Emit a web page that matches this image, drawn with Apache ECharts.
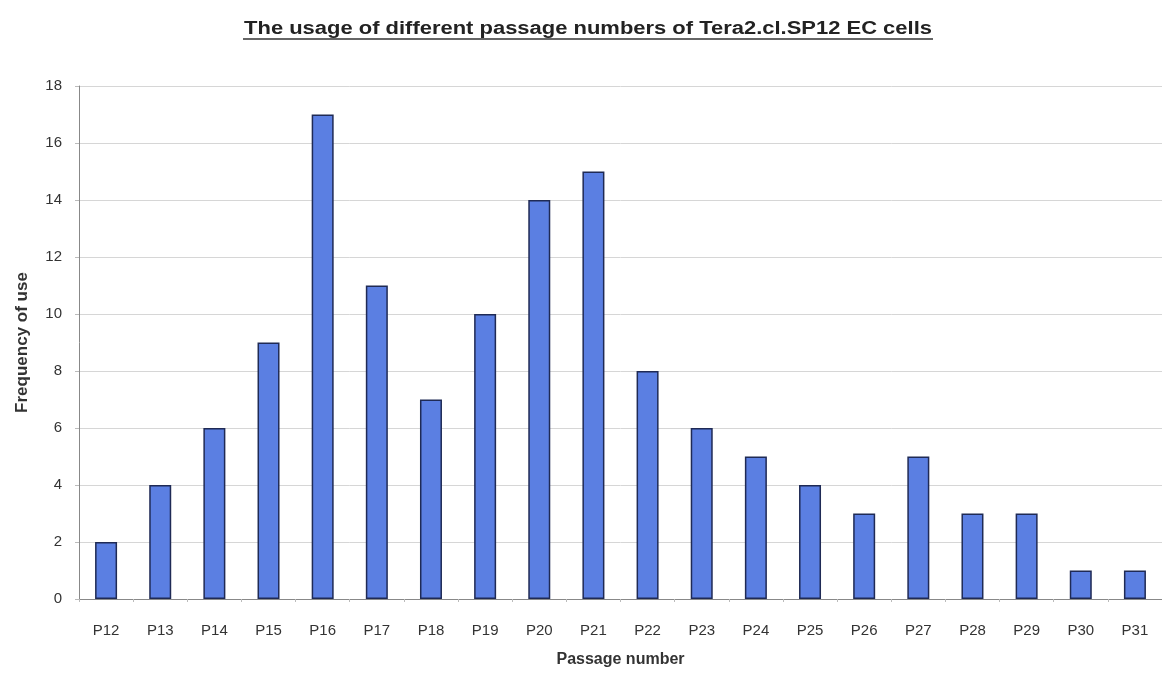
<!DOCTYPE html>
<html><head><meta charset="utf-8">
<script src="https://cdn.jsdelivr.net/npm/echarts@6/dist/echarts.min.js"></script>
<style>html,body{margin:0;padding:0;background:#fff}#c{width:1162px;height:673px}</style>
</head><body><div id="c"></div>
<script>
const categories = ['P12','P13','P14','P15','P16','P17','P18','P19','P20','P21','P22','P23','P24','P25','P26','P27','P28','P29','P30','P31'];
const frequency = [2,4,6,9,17,11,7,10,14,15,8,6,5,4,3,5,3,3,1,1];
const yTicks = [0,2,4,6,8,10,12,14,16,18];
const titleText = 'The usage of different passage numbers of Tera2.cl.SP12 EC cells';

const FONT = 'Liberation Sans, Arial, sans-serif';
const chart = echarts.init(document.getElementById('c'));
chart.setOption({
  animation: false,
  backgroundColor: '#fff',
  graphic: [
    {type: 'text', x: 588, y: 29, scaleX: 1.22, scaleY: 1,
      style: {text: titleText, font: 'bold 18px ' + FONT, fill: '#222', textAlign: 'center', textVerticalAlign: 'middle'}},
    {type: 'line', shape: {x1: 243, y1: 39, x2: 933, y2: 39}, style: {stroke: '#333', lineWidth: 1.4}}
  ],
  grid: {left: 79, right: -5, top: 86, bottom: 69},
  xAxis: {
    type: 'category', data: categories,
    name: 'Passage number', nameLocation: 'middle', nameGap: 53,
    nameTextStyle: {fontFamily: FONT, fontSize: 16, fontWeight: 'bold', color: '#333'},
    axisLine: {lineStyle: {color: '#888', width: 1}},
    axisTick: {show: true, length: 3, lineStyle: {color: '#bbb'}},
    axisLabel: {fontFamily: FONT, fontSize: 15, color: '#333', margin: 24}
  },
  yAxis: {
    type: 'value', min: 0, max: 18, interval: 2,
    name: 'Frequency of use', nameLocation: 'middle', nameGap: 48,
    nameTextStyle: {fontFamily: FONT, fontSize: 17, fontWeight: 'bold', color: '#333'},
    axisLine: {show: true, lineStyle: {color: '#888'}},
    axisTick: {show: true, length: 4, lineStyle: {color: '#bbb'}},
    axisLabel: {fontFamily: FONT, fontSize: 15, color: '#333', margin: 17,
      formatter: v => yTicks.includes(v) ? String(v) : ''},
    splitLine: {show: true, lineStyle: {color: '#d6d6d6', width: 1}}
  },
  series: [{
    type: 'bar', data: frequency, barWidth: 22,
    itemStyle: {color: '#5b7fe2', borderColor: '#1f2a55', borderWidth: 1.5}
  }]
});
</script></body></html>
